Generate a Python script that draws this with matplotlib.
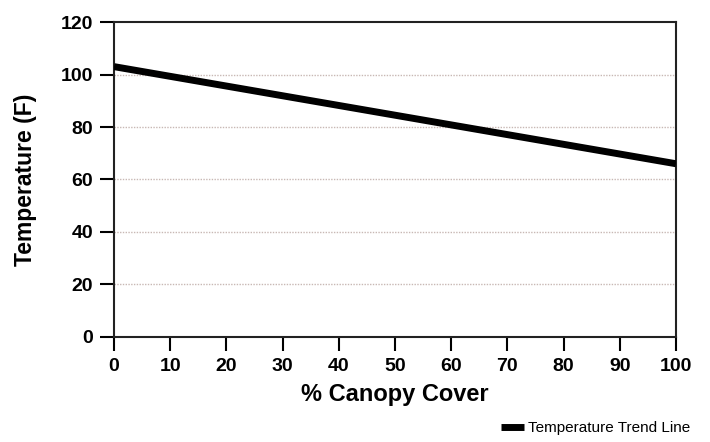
import numpy as np
import matplotlib
matplotlib.use("Agg")
import matplotlib.pyplot as plt

plt.rcParams['font.family'] = ['Liberation Sans', 'DejaVu Sans']

# trend line end points (canopy cover %, temperature F)
canopy = [0, 100]
temperature = [103, 66]
xticks = [0, 10, 20, 30, 40, 50, 60, 70, 80, 90, 100]
yticks = [0, 20, 40, 60, 80, 100, 120]

fig = plt.figure(figsize=(7.1, 4.42), dpi=100)
ax = fig.add_axes([0.1606, 0.2376, 0.7915, 0.7126])

for y in yticks[1:-1]:
    ax.axhline(y, color='#c8b8b4', lw=1.0, ls=(0, (1, 1)), zorder=1)

ax.plot(canopy, temperature, color='black', lw=5, solid_capstyle='butt',
        label='Temperature Trend Line', zorder=3)

ax.set_xlim(0, 100)
ax.set_ylim(0, 120)
ax.set_xticks(xticks)
ax.set_yticks(yticks)
ax.tick_params(direction='out', length=10, width=1.5, labelsize=14, pad=5)
for lab in ax.get_xticklabels() + ax.get_yticklabels():
    lab.set_fontweight('heavy')
for s in ax.spines.values():
    s.set_linewidth(1.5)
    s.set_color('#222222')

ax.set_xlabel('% Canopy Cover', fontsize=17, fontweight='heavy', labelpad=6)
ax.set_ylabel('Temperature (F)', fontsize=16.5, fontweight='heavy', labelpad=17)

fig.legend(loc='center right', bbox_to_anchor=(0.992, 0.032), frameon=False,
           fontsize=11, handlelength=1.5, handletextpad=0.3)

fig.savefig('out.png', dpi=100)
